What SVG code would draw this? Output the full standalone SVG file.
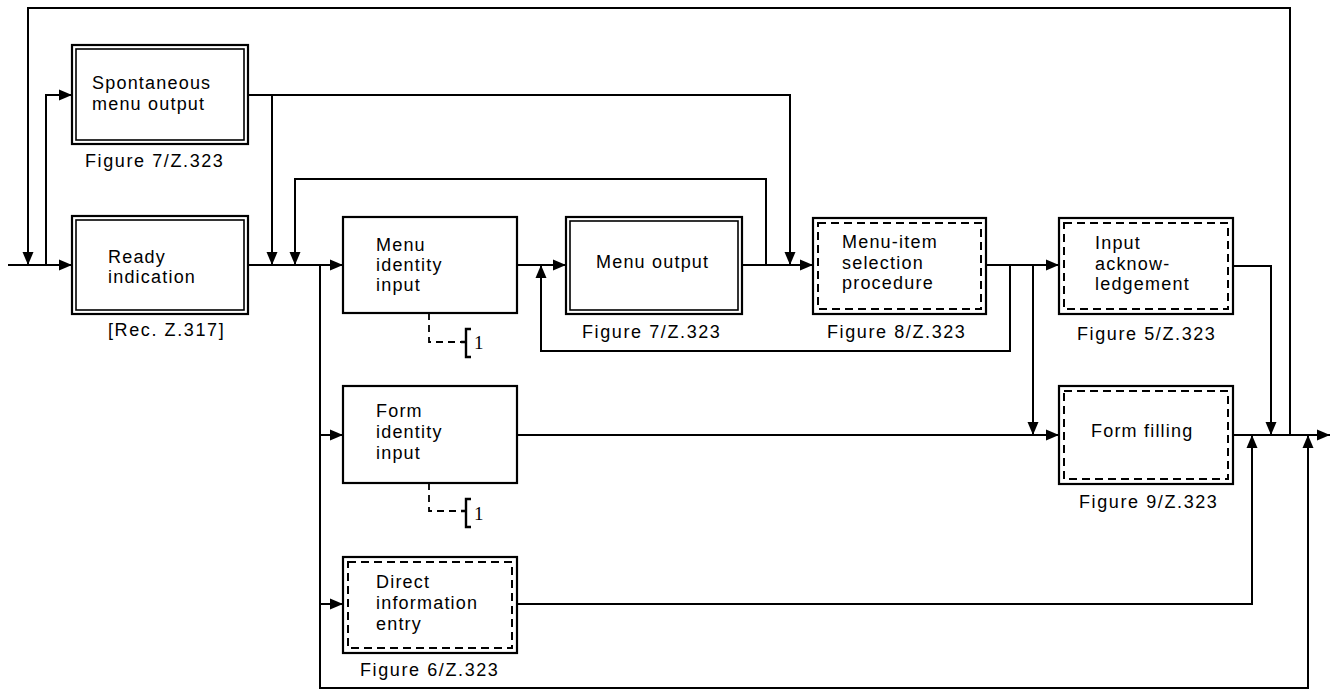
<svg xmlns="http://www.w3.org/2000/svg" width="1338" height="692" viewBox="0 0 1338 692">
<defs>
<marker id="ah" markerUnits="userSpaceOnUse" markerWidth="14" markerHeight="12" refX="13" refY="6" orient="auto">
<path d="M0,0.5 L13,6 L0,11.5 z" fill="#000"/>
</marker>
<style>
.ln{fill:none;stroke:#000;stroke-width:2}
.ar{fill:none;stroke:#000;stroke-width:2;marker-end:url(#ah)}
.ob{fill:#fff;stroke:#000;stroke-width:2.2}
.ib{fill:none;stroke:#000;stroke-width:1.6}
.db{fill:none;stroke:#000;stroke-width:2;stroke-dasharray:8 5}
.dl{fill:none;stroke:#000;stroke-width:1.8;stroke-dasharray:7 5}
.t{font-family:"Liberation Sans",Arial,sans-serif;font-size:18px;letter-spacing:1.2px;fill:#000}
.c{font-family:"Liberation Sans",Arial,sans-serif;font-size:18px;letter-spacing:1.6px;fill:#000}
.n{font-family:"Liberation Serif","Times New Roman",serif;font-size:19px;fill:#000}
</style>
</defs>
<rect width="1338" height="692" fill="#fff"/>
<g id="connectors">
<path class="ln" d="M28,265 V8 H1290 V435"/>
<path class="ar" d="M28,240 V265"/>
<path class="ar" d="M8,265 H72"/>
<path class="ar" d="M46,265 V95 H72"/>
<path class="ar" d="M248,95 H790 V265"/>
<path class="ar" d="M272,95 V265"/>
<path class="ar" d="M248,265 H343"/>
<path class="ar" d="M766,265 V179 H295 V265"/>
<path class="ar" d="M320,265 V688 H1308 V435"/>
<path class="ar" d="M320,435 H343"/>
<path class="ar" d="M320,604 H343"/>
<path class="ar" d="M517,265 H566"/>
<path class="ar" d="M1010,265 V351 H541 V265"/>
<path class="ar" d="M742,265 H813"/>
<path class="ar" d="M986,265 H1059"/>
<path class="ar" d="M1033,265 V435"/>
<path class="ar" d="M517,435 H1059"/>
<path class="ar" d="M1233,266 H1271 V435"/>
<path class="ar" d="M1233,435 H1330"/>
<path class="ar" d="M517,604 H1252 V435"/>
</g>
<g id="spontaneous">
<rect class="ob" x="72" y="45" width="176" height="99"/>
<rect class="ib" x="76" y="49" width="168" height="91"/>
<text class="t" x="92" y="89">Spontaneous</text>
<text class="t" x="92" y="110">menu output</text>
<text class="c" x="85" y="167">Figure 7/Z.323</text>
</g>
<g id="ready">
<rect class="ob" x="72" y="216" width="176" height="98"/>
<rect class="ib" x="76" y="220" width="168" height="90"/>
<text class="t" x="108" y="263">Ready</text>
<text class="t" x="108" y="283">indication</text>
<text class="c" x="108" y="336">[Rec. Z.317]</text>
</g>
<g id="menu-identity">
<rect class="ob" x="343" y="217" width="174" height="96"/>
<text class="t" x="376" y="251">Menu</text>
<text class="t" x="376" y="271">identity</text>
<text class="t" x="376" y="291">input</text>
<path class="dl" d="M429,313 V342 H463"/>
<path class="ln" d="M471,329 H466 V357 H471 M466,342 H461" style="stroke-width:2.4"/>
<text class="n" x="474" y="349">1</text>
</g>
<g id="menu-output">
<rect class="ob" x="566" y="217" width="176" height="97"/>
<rect class="ib" x="570" y="221" width="168" height="89"/>
<text class="t" x="596" y="268">Menu output</text>
<text class="c" x="582" y="338">Figure 7/Z.323</text>
</g>
<g id="menu-item">
<rect class="ob" x="813" y="218" width="173" height="96"/>
<rect class="db" x="818" y="223" width="163" height="86"/>
<text class="t" x="842" y="248">Menu-item</text>
<text class="t" x="842" y="269">selection</text>
<text class="t" x="842" y="289">procedure</text>
<text class="c" x="827" y="338">Figure 8/Z.323</text>
</g>
<g id="input-ack">
<rect class="ob" x="1059" y="218" width="174" height="96"/>
<rect class="db" x="1064" y="223" width="164" height="86"/>
<text class="t" x="1095" y="249">Input</text>
<text class="t" x="1095" y="270">acknow-</text>
<text class="t" x="1095" y="290">ledgement</text>
<text class="c" x="1077" y="340">Figure 5/Z.323</text>
</g>
<g id="form-identity">
<rect class="ob" x="343" y="386" width="174" height="97"/>
<text class="t" x="376" y="417">Form</text>
<text class="t" x="376" y="438">identity</text>
<text class="t" x="376" y="459">input</text>
<path class="dl" d="M429,483 V511 H463"/>
<path class="ln" d="M471,499 H466 V527 H471 M466,511 H461" style="stroke-width:2.4"/>
<text class="n" x="474" y="520">1</text>
</g>
<g id="form-filling">
<rect class="ob" x="1059" y="386" width="174" height="98"/>
<rect class="db" x="1064" y="391" width="164" height="88"/>
<text class="t" x="1091" y="437">Form filling</text>
<text class="c" x="1079" y="508">Figure 9/Z.323</text>
</g>
<g id="direct-entry">
<rect class="ob" x="343" y="557" width="174" height="96"/>
<rect class="db" x="348" y="562" width="164" height="86"/>
<text class="t" x="376" y="588">Direct</text>
<text class="t" x="376" y="609">information</text>
<text class="t" x="376" y="630">entry</text>
<text class="c" x="360" y="676">Figure 6/Z.323</text>
</g>
</svg>
